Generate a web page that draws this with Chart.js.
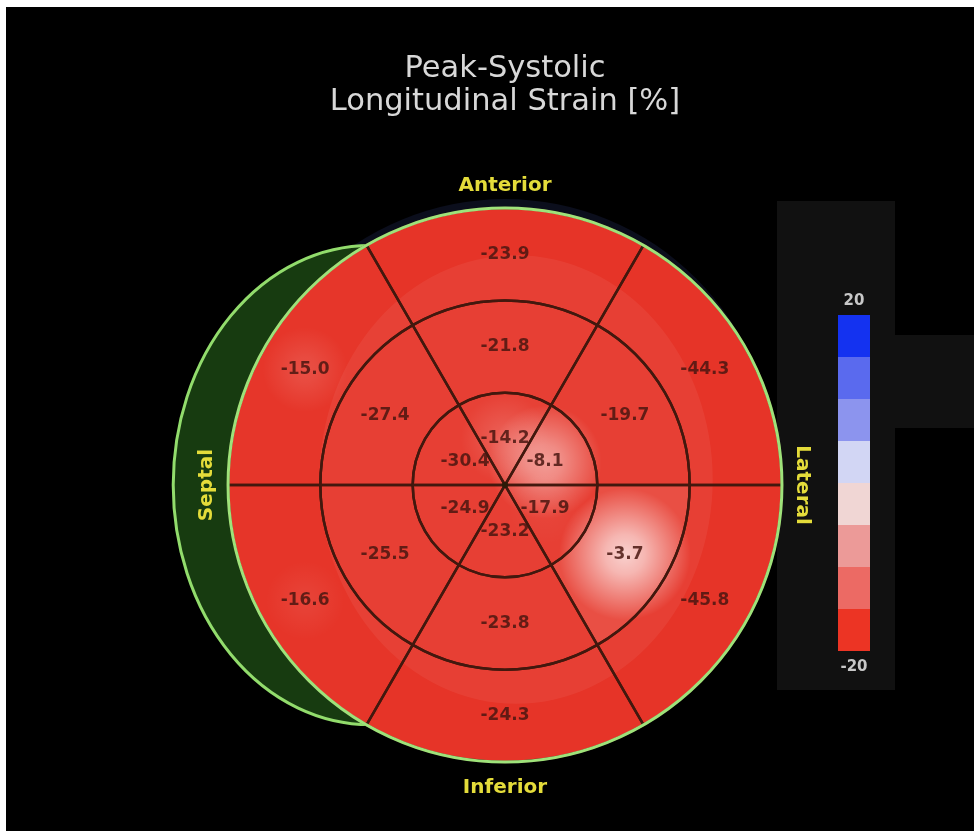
<!DOCTYPE html>
<html>
<head>
<meta charset="utf-8">
<title>Peak-Systolic Longitudinal Strain</title>
<script src="https://cdn.jsdelivr.net/npm/chart.js@4.4.1/dist/chart.umd.min.js"></script>
<style>
  html, body { margin:0; padding:0; background:#fff; }
  #wrap { position:absolute; left:6px; top:7px; width:968px; height:824px; background:#000; }
</style>
</head>
<body>
<div id="wrap"><canvas id="bullseye"></canvas></div>
<script>
/* ---- data: six walls per ring, clockwise from the anterior wall ---- */
const segmentNames = ['Anterior', 'Anterolateral', 'Inferolateral', 'Inferior', 'Inferoseptal', 'Anteroseptal'];
const cellSpan     = [1, 1, 1, 1, 1, 1];            // every wall covers 60 degrees
const basalStrain  = [-23.9, -44.3, -45.8, -24.3, -16.6, -15.0];
const midStrain    = [-21.8, -19.7,  -3.7, -23.8, -25.5, -27.4];
const apicalStrain = [-14.2,  -8.1, -17.9, -23.2, -24.9, -30.4];

const wallLabels  = ['Anterior', 'Lateral', 'Inferior', 'Septal'];
const scaleTicks  = [20, -20];
const scaleColors = ['#1432f0', '#5a6aee', '#8c94ee', '#d2d6f4', '#f0d6d4', '#ec9a98', '#ec6a64', '#ec3424'];

const scaleMax = scaleTicks[0], scaleMin = scaleTicks[1];
const BASE_RED = [230, 52, 40];

// 0 at the bottom of the scale, 1 at zero strain
function lightness(v) { return Math.max(0, Math.min(1, (v - scaleMin) / (0 - scaleMin))); }

function segmentColor(v) {
  const k = 0.12 * lightness(v) ** 2;
  const c = BASE_RED.map(ch => Math.round(ch + (255 - ch) * k));
  return `rgb(${c[0]},${c[1]},${c[2]})`;
}

const bullseyePlugin = {
  id: 'bullseye',
  beforeDraw(chart) {
    // side panel behind the colour bar
    const { ctx } = chart;
    ctx.save();
    ctx.fillStyle = '#111111';
    ctx.fillRect(771, 194, 118, 489);
    ctx.fillRect(889, 328, 79, 93);
    ctx.restore();
  },
  beforeDatasetsDraw(chart) {
    const { ctx } = chart;
    const a = chart.getDatasetMeta(0).data[0];
    const cx = a.x, cy = a.y, r = a.outerRadius;
    ctx.save();
    // faint halo above the plot
    ctx.beginPath();
    ctx.arc(cx, cy - 16, r - 7, 0, Math.PI * 2);
    ctx.fillStyle = '#0b0e1c';
    ctx.fill();
    // right-ventricle crescent
    ctx.beginPath();
    ctx.ellipse(cx - 0.487 * r, cy, 0.711 * r, 0.865 * r, 0, 0, Math.PI * 2);
    ctx.fillStyle = '#173b10';
    ctx.fill();
    ctx.lineWidth = 3;
    ctx.strokeStyle = '#92dc6c';
    ctx.stroke();
    ctx.restore();
  },
  afterDatasetsDraw(chart) {
    const { ctx } = chart;
    const metas = [0, 1, 2].map(i => chart.getDatasetMeta(i));
    const a = metas[0].data[0];
    const cx = a.x, cy = a.y, r = a.outerRadius;

    ctx.save();
    ctx.beginPath();
    ctx.arc(cx, cy, r, 0, Math.PI * 2);
    ctx.clip();

    // lighter central field
    ctx.beginPath();
    ctx.ellipse(cx + 0.04 * r, cy - 0.02 * r, 0.71 * r, 0.81 * r, 0, 0, Math.PI * 2);
    ctx.fillStyle = 'rgba(255,255,255,0.06)';
    ctx.fill();

    // soft highlights where strain is weak
    metas.forEach((meta, di) => {
      const vals = chart.data.datasets[di].strain;
      meta.data.forEach((arc, i) => {
        const t = lightness(vals[i]);
        if (t <= 0) return;
        const p = arc.getCenterPoint();
        const rad = 92 * (0.35 + 0.45 * t);
        const peak = t ** 1.5;
        const g = ctx.createRadialGradient(p.x, p.y, 0, p.x, p.y, rad);
        g.addColorStop(0, `rgba(255,255,255,${peak.toFixed(3)})`);
        g.addColorStop(0.3, `rgba(255,255,255,${(0.8 * peak).toFixed(3)})`);
        g.addColorStop(0.65, `rgba(255,255,255,${(0.4 * peak).toFixed(3)})`);
        g.addColorStop(1, 'rgba(255,255,255,0)');
        ctx.fillStyle = g;
        ctx.beginPath();
        ctx.arc(p.x, p.y, rad, 0, Math.PI * 2);
        ctx.fill();
      });
    });
    ctx.restore();

    // ring and spoke lines from the arc geometry
    ctx.save();
    ctx.strokeStyle = '#42180e';
    ctx.lineWidth = 2.5;
    metas.forEach(meta => meta.data.forEach(arc => {
      ctx.beginPath();
      ctx.arc(arc.x, arc.y, arc.outerRadius, arc.startAngle, arc.endAngle);
      if (arc.innerRadius > 0) ctx.arc(arc.x, arc.y, arc.innerRadius, arc.endAngle, arc.startAngle, true);
      else ctx.lineTo(arc.x, arc.y);
      ctx.closePath();
      ctx.stroke();
    }));
    ctx.beginPath();
    ctx.arc(cx, cy, 3, 0, Math.PI * 2);
    ctx.fillStyle = '#2c1a08';
    ctx.fill();

    // outer border
    ctx.beginPath();
    ctx.arc(cx, cy, r, 0, Math.PI * 2);
    ctx.lineWidth = 3;
    ctx.strokeStyle = '#9ee27a';
    ctx.stroke();

    // segment values
    ctx.font = 'bold 17px "DejaVu Sans"';
    ctx.textAlign = 'center';
    ctx.textBaseline = 'middle';
    ctx.fillStyle = 'rgba(74,22,16,0.85)';
    metas.forEach((meta, di) => {
      const vals = chart.data.datasets[di].strain;
      meta.data.forEach((arc, i) => {
        const p = arc.getCenterPoint();
        ctx.fillText(vals[i].toFixed(1), p.x, p.y);
      });
    });

    // wall names
    ctx.font = 'bold 20px "DejaVu Sans"';
    ctx.fillStyle = '#e4dc3a';
    ctx.fillText(wallLabels[0], cx, cy - r - 22);
    ctx.fillText(wallLabels[2], cx, cy + r + 26);
    ctx.save();
    ctx.translate(cx + r + 20, cy);
    ctx.rotate(Math.PI / 2);
    ctx.fillText(wallLabels[1], 0, 0);
    ctx.restore();
    ctx.save();
    ctx.translate(cx - r - 21, cy);
    ctx.rotate(-Math.PI / 2);
    ctx.fillText(wallLabels[3], 0, 0);
    ctx.restore();
    ctx.restore();
  },
  afterDraw(chart) {
    // colour bar, top = scaleMax, bottom = scaleMin
    const { ctx } = chart;
    const x = 832, w = 32, top = 308, step = 42;
    ctx.save();
    scaleColors.forEach((c, i) => {
      ctx.fillStyle = c;
      ctx.fillRect(x, top + i * step, w, step);
    });
    ctx.font = 'bold 15px "DejaVu Sans"';
    ctx.fillStyle = '#c8c8c8';
    ctx.textAlign = 'center';
    ctx.textBaseline = 'middle';
    ctx.fillText(String(scaleMax), x + w / 2, top - 14);
    ctx.fillText(String(scaleMin), x + w / 2, top + scaleColors.length * step + 16);
    ctx.restore();
  }
};

new Chart(document.getElementById('bullseye'), {
  type: 'doughnut',
  data: {
    labels: segmentNames,
    datasets: [basalStrain, midStrain, apicalStrain].map(vals => ({
      data: cellSpan,
      strain: vals,
      backgroundColor: vals.map(segmentColor),
      borderWidth: 0
    }))
  },
  options: {
    responsive: true,
    maintainAspectRatio: false,
    animation: false,
    cutout: 0,
    rotation: -30,
    layout: { padding: { left: 222, right: 192, top: 0, bottom: 69 } },
    plugins: {
      legend: { display: false },
      tooltip: { enabled: false },
      title: {
        display: true,
        text: ['Peak-Systolic', 'Longitudinal Strain [%]'],
        color: '#d8d8d8',
        font: { family: '"DejaVu Sans"', size: 30.5, weight: 'normal', lineHeight: 1.1 },
        padding: { top: 45, bottom: 89 }
      }
    }
  },
  plugins: [bullseyePlugin]
});
</script>
</body>
</html>
